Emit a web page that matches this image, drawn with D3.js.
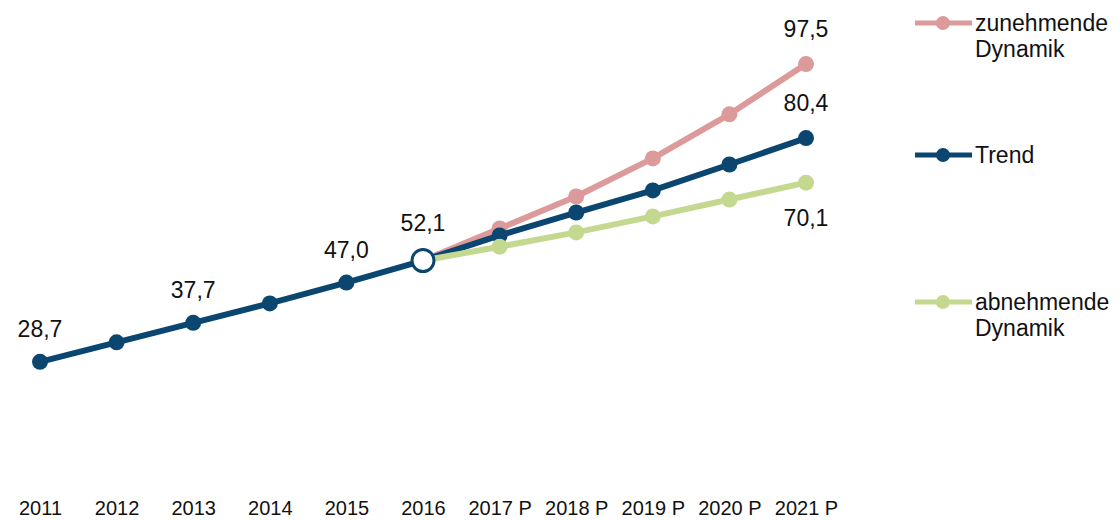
<!DOCTYPE html>
<html><head><meta charset="utf-8">
<script src="https://cdn.jsdelivr.net/npm/d3@7"></script>
<style>
html,body{margin:0;padding:0;background:#fff;}
svg{display:block;font-family:"Liberation Sans",Arial,sans-serif;}
</style></head>
<body><svg id="c" width="1120" height="520"></svg>
<script>
// ---- data ----
const years = ["2011","2012","2013","2014","2015","2016","2017 P","2018 P","2019 P","2020 P","2021 P"];
const histYears = ["2011","2012","2013","2014","2015","2016"];
const histValues = [28.7, 33.2, 37.7, 42.2, 47.0, 52.1];
const projYears = ["2016","2017 P","2018 P","2019 P","2020 P","2021 P"];
const zunehmende = [52.1, 59.5, 66.9, 75.7, 85.9, 97.5];
const trend = [52.1, 57.9, 63.2, 68.3, 74.3, 80.4];
const abnehmende = [52.1, 55.3, 58.6, 62.3, 66.2, 70.1];
const seriesNames = ["zunehmende Dynamik", "Trend", "abnehmende Dynamik"];
const histLabelYears = ["2011","2013","2015","2016"];

const colors = {z:"#dc9a9a", t:"#0a4670", a:"#c4d98f"};
const fmt = v => d3.format(".1f")(v).replace(".", ",");

const svg = d3.select("#c");
const x = d3.scalePoint().domain(years).range([40, 806]);
const y = d3.scaleLinear().domain([0, 110]).range([486, 10]);

// axis
const axis = svg.append("g").attr("transform","translate(0,490)")
  .call(d3.axisBottom(x).tickSize(0).tickPadding(11));
axis.select(".domain").remove();
axis.selectAll("text").attr("font-size", 20).attr("fill","#111")
  .attr("font-family","Liberation Sans, Arial, sans-serif");

const line = d3.line().x(d => x(d.k)).y(d => y(d.v));
const zip = (ks, vs) => ks.map((k,i)=>({k, v: vs[i]}));

function drawSeries(data, color, w, r){
  svg.append("path").datum(data).attr("d", line)
    .attr("fill","none").attr("stroke", color).attr("stroke-width", w)
    .attr("stroke-linejoin","round");
  svg.append("g").selectAll("circle").data(data.slice(1)).join("circle")
    .attr("cx", d=>x(d.k)).attr("cy", d=>y(d.v)).attr("r", r).attr("fill", color);
}

drawSeries(zip(projYears, zunehmende), colors.z, 6, 8);
drawSeries(zip(projYears, trend), colors.t, 6, 8);
drawSeries(zip(projYears, abnehmende), colors.a, 6, 8);

// historic
const hist = zip(histYears, histValues);
svg.append("path").datum(hist).attr("d", line)
  .attr("fill","none").attr("stroke", colors.t).attr("stroke-width", 6);
svg.append("g").selectAll("circle").data(hist.slice(0,-1)).join("circle")
  .attr("cx", d=>x(d.k)).attr("cy", d=>y(d.v)).attr("r", 8).attr("fill", colors.t);
const last = hist[hist.length-1];
svg.append("circle").attr("cx", x(last.k)).attr("cy", y(last.v)).attr("r", 11)
  .attr("fill","#fff").attr("stroke", colors.t).attr("stroke-width", 3);

// labels
const lbl = svg.append("g").attr("font-size", 23).attr("fill","#111").attr("text-anchor","middle");
hist.filter(d => histLabelYears.includes(d.k)).forEach(d => {
  lbl.append("text").attr("x", x(d.k)).attr("y", y(d.v) - (d.k==="2016"?30:25)).text(fmt(d.v));
});
const lastK = projYears[projYears.length-1];
lbl.append("text").attr("x", x(lastK)).attr("y", y(zunehmende[5]) - 27).text(fmt(zunehmende[5]));
lbl.append("text").attr("x", x(lastK)).attr("y", y(trend[5]) - 27).text(fmt(trend[5]));
lbl.append("text").attr("x", x(lastK)).attr("y", y(abnehmende[5]) + 43).text(fmt(abnehmende[5]));

// legend
const legend = [
  {name: seriesNames[0], color: colors.z, y: 23, lines: ["zunehmende","Dynamik"]},
  {name: seriesNames[1], color: colors.t, y: 155, lines: ["Trend"]},
  {name: seriesNames[2], color: colors.a, y: 302, lines: ["abnehmende","Dynamik"]}
];
const lg = svg.append("g");
legend.forEach(l => {
  lg.append("line").attr("x1", 915).attr("x2", 972).attr("y1", l.y).attr("y2", l.y)
    .attr("stroke", l.color).attr("stroke-width", 5);
  lg.append("circle").attr("cx", 943).attr("cy", l.y).attr("r", 7).attr("fill", l.color);
  const t = lg.append("text").attr("x", 975).attr("y", l.y + 8).attr("font-size", 23).attr("fill","#111");
  l.lines.forEach((s,i) => t.append("tspan").attr("x", 975).attr("dy", i===0?0:26).text(s));
});
</script>
</body></html>
